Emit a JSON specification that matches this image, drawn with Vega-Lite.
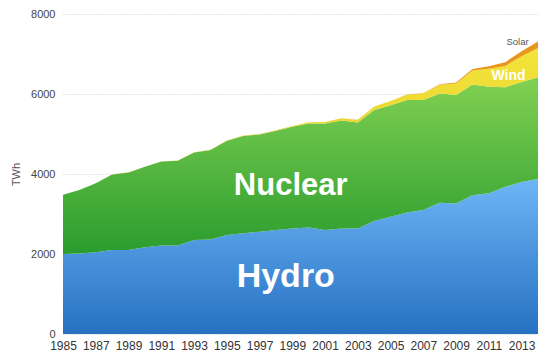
{
  "$schema": "https://vega.github.io/schema/vega-lite/v6.json",
  "autosize": {"type": "none"},
  "width": 475,
  "height": 320,
  "padding": {"left": 63, "top": 14, "right": 6, "bottom": 22},
  "background": "white",
  "config": {
    "view": {"stroke": null},
    "font": "Liberation Sans",
    "axis": {"labelFont": "Liberation Sans", "titleFont": "Liberation Sans", "labelOverlap": false}
  },
  "encoding": {
    "x": {"field": "year", "type": "quantitative", "scale": {"domain": [1985, 2014], "nice": false, "zero": false},
      "axis": {"values": [1985, 1987, 1989, 1991, 1993, 1995, 1997, 1999, 2001, 2003, 2005, 2007, 2009, 2011, 2013], "format": "d", "title": null, "domain": false, "ticks": false, "grid": false, "labelFontSize": 12, "labelColor": "#333333", "labelPadding": 6, "labelFlush": false, "labelOverlap": false, "labelBound": false}},
    "y": {"field": "twh_top", "type": "quantitative", "scale": {"domain": [0, 8000], "nice": false},
      "axis": {"values": [0, 2000, 4000, 6000, 8000], "format": "d", "title": "TWh", "titleFontWeight": "normal", "titleFontSize": 11, "titleColor": "#555555", "titlePadding": 9, "domain": false, "ticks": false, "grid": true, "gridDash": [1, 2], "gridColor": "#c8c8c8", "labelFontSize": 11, "labelColor": "#444444", "labelPadding": 8}}
  },
  "layer": [
    {
      "data": {
        "values": [
          {"year": 1985, "Hydro": 2000, "Nuclear": 1480, "Wind": 0, "Solar": 0},
          {"year": 1986, "Hydro": 2010, "Nuclear": 1590, "Wind": 0, "Solar": 0},
          {"year": 1987, "Hydro": 2045, "Nuclear": 1725, "Wind": 1, "Solar": 0},
          {"year": 1988, "Hydro": 2100, "Nuclear": 1890, "Wind": 2, "Solar": 0},
          {"year": 1989, "Hydro": 2100, "Nuclear": 1940, "Wind": 3, "Solar": 0},
          {"year": 1990, "Hydro": 2170, "Nuclear": 2010, "Wind": 4, "Solar": 0},
          {"year": 1991, "Hydro": 2210, "Nuclear": 2100, "Wind": 4, "Solar": 0},
          {"year": 1992, "Hydro": 2210, "Nuclear": 2120, "Wind": 5, "Solar": 0},
          {"year": 1993, "Hydro": 2350, "Nuclear": 2190, "Wind": 6, "Solar": 0},
          {"year": 1994, "Hydro": 2365, "Nuclear": 2235, "Wind": 7, "Solar": 0},
          {"year": 1995, "Hydro": 2475, "Nuclear": 2355, "Wind": 8, "Solar": 0},
          {"year": 1996, "Hydro": 2520, "Nuclear": 2430, "Wind": 10, "Solar": 0},
          {"year": 1997, "Hydro": 2555, "Nuclear": 2435, "Wind": 12, "Solar": 0},
          {"year": 1998, "Hydro": 2600, "Nuclear": 2480, "Wind": 16, "Solar": 0},
          {"year": 1999, "Hydro": 2635, "Nuclear": 2545, "Wind": 21, "Solar": 1},
          {"year": 2000, "Hydro": 2660, "Nuclear": 2600, "Wind": 31, "Solar": 1},
          {"year": 2001, "Hydro": 2600, "Nuclear": 2660, "Wind": 38, "Solar": 2},
          {"year": 2002, "Hydro": 2640, "Nuclear": 2700, "Wind": 52, "Solar": 2},
          {"year": 2003, "Hydro": 2640, "Nuclear": 2650, "Wind": 63, "Solar": 3},
          {"year": 2004, "Hydro": 2825, "Nuclear": 2775, "Wind": 85, "Solar": 4},
          {"year": 2005, "Hydro": 2930, "Nuclear": 2790, "Wind": 104, "Solar": 4},
          {"year": 2006, "Hydro": 3040, "Nuclear": 2810, "Wind": 132, "Solar": 6},
          {"year": 2007, "Hydro": 3100, "Nuclear": 2750, "Wind": 170, "Solar": 8},
          {"year": 2008, "Hydro": 3280, "Nuclear": 2730, "Wind": 220, "Solar": 12},
          {"year": 2009, "Hydro": 3265, "Nuclear": 2710, "Wind": 290, "Solar": 20},
          {"year": 2010, "Hydro": 3470, "Nuclear": 2770, "Wind": 350, "Solar": 35},
          {"year": 2011, "Hydro": 3520, "Nuclear": 2660, "Wind": 450, "Solar": 65},
          {"year": 2012, "Hydro": 3680, "Nuclear": 2490, "Wind": 530, "Solar": 95},
          {"year": 2013, "Hydro": 3800, "Nuclear": 2500, "Wind": 645, "Solar": 125},
          {"year": 2014, "Hydro": 3875, "Nuclear": 2545, "Wind": 730, "Solar": 160}
        ]
      },
      "transform": [
        {"fold": ["Hydro", "Nuclear", "Wind", "Solar"], "as": ["source", "twh"]},
        {"stack": "twh", "groupby": ["year"], "as": ["twh_base", "twh_top"]}
      ],
      "encoding": {"y2": {"field": "twh_base"}},
      "layer": [
        {
          "transform": [{"filter": "datum.source === 'Hydro'"}],
          "mark": {"type": "area", "color": {"gradient": "linear", "x1": 0, "y1": 0, "x2": 0, "y2": 1, "stops": [{"offset": 0, "color": "#6db6f6"}, {"offset": 1, "color": "#2670c2"}]}}
        },
        {
          "transform": [{"filter": "datum.source === 'Nuclear'"}],
          "mark": {"type": "area", "color": {"gradient": "linear", "x1": 0, "y1": 0, "x2": 0, "y2": 1, "stops": [{"offset": 0, "color": "#82d152"}, {"offset": 1, "color": "#2a9c2e"}]}}
        },
        {
          "transform": [{"filter": "datum.source === 'Wind'"}],
          "mark": {"type": "area", "color": {"gradient": "linear", "x1": 0, "y1": 0, "x2": 0, "y2": 1, "stops": [{"offset": 0, "color": "#f4e53a"}, {"offset": 1, "color": "#e2c92a"}]}}
        },
        {
          "transform": [{"filter": "datum.source === 'Solar'"}],
          "mark": {"type": "area", "color": "#e8961c"}
        }
      ]
    },
    {
      "data": {"values": [{"label": "Hydro", "year": 1998.6, "twh_top": 1175}]},
      "mark": {"type": "text", "font": "Liberation Sans", "fontWeight": "bold", "fontSize": 34, "color": "white", "align": "center", "baseline": "alphabetic"},
      "encoding": {"text": {"field": "label"}}
    },
    {
      "data": {"values": [{"label": "Nuclear", "year": 1998.9, "twh_top": 3475}]},
      "mark": {"type": "text", "font": "Liberation Sans", "fontWeight": "bold", "fontSize": 31, "color": "white", "align": "center", "baseline": "alphabetic"},
      "encoding": {"text": {"field": "label"}}
    },
    {
      "data": {"values": [{"label": "Wind", "year": 2012.2, "twh_top": 6350}]},
      "mark": {"type": "text", "font": "Liberation Sans", "fontWeight": "bold", "fontSize": 14, "color": "white", "align": "center", "baseline": "alphabetic"},
      "encoding": {"text": {"field": "label"}}
    },
    {
      "data": {"values": [{"label": "Solar", "year": 2012.75, "twh_top": 7225}]},
      "mark": {"type": "text", "font": "Liberation Sans", "fontSize": 9.5, "color": "#555555", "align": "center", "baseline": "alphabetic"},
      "encoding": {"text": {"field": "label"}}
    }
  ]
}
